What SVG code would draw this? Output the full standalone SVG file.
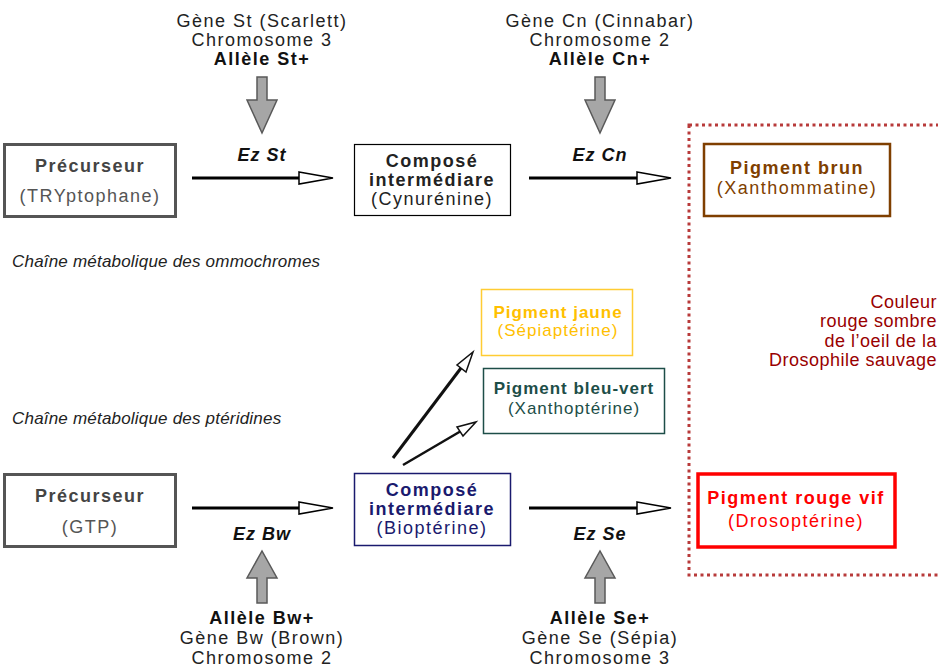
<svg xmlns="http://www.w3.org/2000/svg" width="938" height="671" viewBox="0 0 938 671">
<defs>
<style>
text{font-family:"Liberation Sans",Arial,sans-serif;font-size:18px;letter-spacing:1.5px;text-anchor:middle}
.b{font-weight:bold}
.ez{font-weight:bold;font-style:italic;letter-spacing:1px}
.it{font-style:italic;font-size:17px;text-anchor:start;letter-spacing:0.2px;fill:#222}
.sm{font-size:17px;letter-spacing:1px}
.cl{font-size:18px;letter-spacing:0.5px;text-anchor:end;fill:#990000}
.gray{fill:#a6a6a6;stroke:#595959;stroke-width:1.5}
.hl{stroke:#000;stroke-width:3;fill:none}
.hh{fill:#fff;stroke:#000;stroke-width:1.5;stroke-linejoin:miter}
</style>
</defs>
<rect width="938" height="671" fill="#fff"/>

<rect id="zone-sauvage" x="689" y="125" width="260" height="450" fill="none" stroke="#b83a3a" stroke-width="3" stroke-dasharray="3 3.5"/>

<g id="gene-st">
<text x="262" y="27" fill="#222">Gène St (Scarlett)</text>
<text x="262" y="46" fill="#222">Chromosome 3</text>
<text x="262" y="65" class="b" fill="#111">Allèle St+</text>
</g>
<g id="gene-cn">
<text x="600" y="27" fill="#222">Gène Cn (Cinnabar)</text>
<text x="600" y="46" fill="#222">Chromosome 2</text>
<text x="600" y="65" class="b" fill="#111">Allèle Cn+</text>
</g>
<g id="gene-bw">
<text x="262" y="624" class="b" fill="#111">Allèle Bw+</text>
<text x="262" y="644" fill="#222">Gène Bw (Brown)</text>
<text x="262" y="664" fill="#222">Chromosome 2</text>
</g>
<g id="gene-se">
<text x="600" y="624" class="b" fill="#111">Allèle Se+</text>
<text x="600" y="644" fill="#222">Gène Se (Sépia)</text>
<text x="600" y="664" fill="#222">Chromosome 3</text>
</g>

<g id="precurseur-try">
<rect x="4.5" y="144.5" width="171" height="72" fill="#fff" stroke="#555" stroke-width="3"/>
<text x="90" y="172" class="b" fill="#444">Précurseur</text>
<text x="90" y="202" fill="#555">(TRYptophane)</text>
</g>
<g id="cynurenine">
<rect x="354.5" y="144.5" width="156" height="71" fill="#fff" stroke="#000" stroke-width="1.2"/>
<text x="432" y="167" class="b" fill="#222">Composé</text>
<text x="432" y="186" class="b" fill="#222">intermédiare</text>
<text x="432" y="205" fill="#222">(Cynurénine)</text>
</g>
<g id="pigment-brun">
<rect x="704" y="144" width="186" height="72" fill="#fff" stroke="#7f3f00" stroke-width="2.5"/>
<text x="797" y="174" class="b" fill="#7f3f00">Pigment brun</text>
<text x="797" y="194" fill="#7f3f00">(Xanthommatine)</text>
</g>

<g id="precurseur-gtp">
<rect x="4.5" y="474.5" width="171" height="72" fill="#fff" stroke="#555" stroke-width="3"/>
<text x="90" y="502" class="b" fill="#444">Précurseur</text>
<text x="90" y="533" fill="#555">(GTP)</text>
</g>
<g id="biopterine">
<rect x="354.5" y="473.5" width="156" height="72" fill="#fff" stroke="#1a1a6e" stroke-width="1.5"/>
<text x="432" y="496" class="b" fill="#1a1a6e">Composé</text>
<text x="432" y="515" class="b" fill="#1a1a6e">intermédiare</text>
<text x="432" y="534" fill="#1a1a6e">(Bioptérine)</text>
</g>
<g id="pigment-rouge">
<rect x="698" y="474" width="197" height="73" fill="#fff" stroke="#ff0000" stroke-width="3.5"/>
<text x="796" y="504" class="b" fill="#ff0000">Pigment rouge vif</text>
<text x="796" y="527" fill="#ff0000">(Drosoptérine)</text>
</g>
<g id="pigment-jaune">
<rect x="481.5" y="289.5" width="151" height="66" fill="#fff" stroke="#ffcc33" stroke-width="1.5"/>
<text x="558" y="318" class="b sm" fill="#ffc000">Pigment jaune</text>
<text x="558" y="336" class="sm" fill="#ffc000">(Sépiaptérine)</text>
</g>
<g id="pigment-bleu-vert">
<rect x="483.5" y="368.5" width="181" height="65" fill="#fff" stroke="#1d4e48" stroke-width="1.5"/>
<text x="574" y="394" class="b sm" fill="#1d4e48">Pigment bleu-vert</text>
<text x="574" y="414" class="sm" fill="#1d4e48">(Xanthoptérine)</text>
</g>

<g id="couleur-sauvage">
<text x="937" y="308" class="cl">Couleur</text>
<text x="937" y="327" class="cl">rouge sombre</text>
<text x="937" y="347" class="cl">de l’oeil de la</text>
<text x="937" y="366" class="cl">Drosophile sauvage</text>
</g>

<g id="legendes">
<text x="12" y="267" class="it">Chaîne métabolique des ommochromes</text>
<text x="12" y="424" class="it">Chaîne métabolique des ptéridines</text>
</g>

<g id="connectors">
<path class="gray" d="M257,77 H267 V100 H277 L262,133 L247,100 H257 Z"/>
<path class="gray" d="M595,77 H605 V100 H615 L600,133 L585,100 H595 Z"/>
<path class="gray" d="M257,603 H267 V578 H277 L262,551 L247,578 H257 Z"/>
<path class="gray" d="M595,603 H605 V578 H615 L600,551 L585,578 H595 Z"/>

<line class="hl" x1="192" y1="178" x2="300" y2="178"/>
<polygon class="hh" points="299,172 333,178 299,184"/>
<line class="hl" x1="529" y1="178" x2="638" y2="178"/>
<polygon class="hh" points="637,172 671,178 637,184"/>
<line class="hl" x1="192" y1="508" x2="300" y2="508"/>
<polygon class="hh" points="299,502 333,508 299,514"/>
<line class="hl" x1="529" y1="508" x2="638" y2="508"/>
<polygon class="hh" points="637,502 671,508 637,514"/>

<line x1="393" y1="458" x2="461" y2="368" stroke="#111" stroke-width="3"/>
<polygon points="473,352 466,372 457,365" fill="#fff" stroke="#111" stroke-width="1.5"/>
<line x1="403" y1="465" x2="461" y2="431" stroke="#111" stroke-width="2.5"/>
<polygon points="476,422 463,436 457,427" fill="#fff" stroke="#111" stroke-width="1.5"/>

<text x="262" y="161" class="ez" fill="#111">Ez St</text>
<text x="600" y="161" class="ez" fill="#111">Ez Cn</text>
<text x="262" y="540" class="ez" fill="#111">Ez Bw</text>
<text x="600" y="540" class="ez" fill="#111">Ez Se</text>
</g>
</svg>
